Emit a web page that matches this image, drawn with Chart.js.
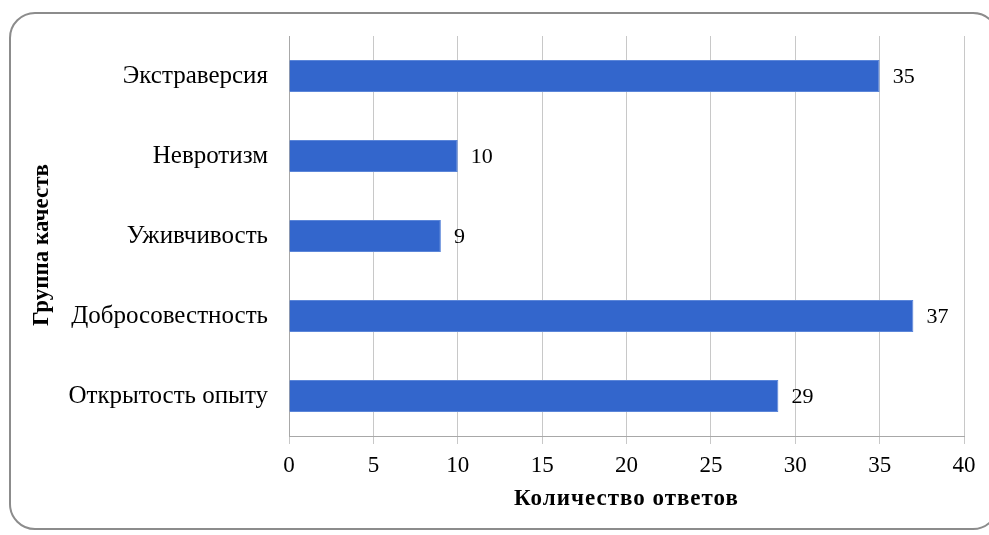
<!DOCTYPE html>
<html>
<head>
<meta charset="utf-8">
<script src="https://cdn.jsdelivr.net/npm/chart.js@4"></script>
<style>
  html, body { margin: 0; padding: 0; background: #fff; overflow: hidden; }
  #wrap { position: relative; width: 989px; height: 535px; }
  #frame {
    position: absolute; left: 9px; top: 12px; width: 990px; height: 518px;
    border: 2px solid #8c8c8c; border-radius: 26px; box-sizing: border-box;
  }
  canvas { position: absolute; left: 0; top: 0; }
</style>
</head>
<body>
<div id="wrap">
  <div id="frame"></div>
  <canvas id="myChart" width="989" height="535"></canvas>
</div>
<script>
const categories = ['Экстраверсия', 'Невротизм', 'Уживчивость', 'Добросовестность', 'Открытость опыту']
const answers = [35, 10, 9, 37, 29]
const xTitle = 'Количество ответов'
const yTitle = 'Группа качеств'

const serif = 'Liberation Serif'

// value labels at the end of each bar + both axis titles (drawn by hand to place them like the original)
const barLabels = {
    id: 'barLabels',
    afterDatasetsDraw(chart) {
        const ctx = chart.ctx
        const meta = chart.getDatasetMeta(0)
        ctx.save()
        ctx.font = '22px "' + serif + '"'
        ctx.fillStyle = '#000'
        ctx.textAlign = 'left'
        ctx.textBaseline = 'middle'
        meta.data.forEach((bar, i) => {
            ctx.fillText(String(answers[i]), bar.x + 13, bar.y + 1)
        })
        const area = chart.chartArea
        ctx.font = 'bold 23px "' + serif + '"'
        ctx.letterSpacing = '1px'
        ctx.textAlign = 'center'
        ctx.fillText(xTitle, (area.left + area.right) / 2, 499)
        ctx.letterSpacing = '0px'
        ctx.translate(42, (area.top + area.bottom) / 2 + 9)
        ctx.rotate(-Math.PI / 2)
        ctx.fillText(yTitle, 0, 0)
        ctx.restore()
    }
}

const ctx = document.getElementById('myChart').getContext('2d')
const myChart = new Chart(ctx, {
    type: 'bar',
    data: {
        labels: categories,
        datasets: [{
            data: answers,
            backgroundColor: '#3366cc',
            borderColor: '#5b86d9',
            borderWidth: 1,
            barPercentage: 0.4,
            categoryPercentage: 1
        }]
    },
    options: {
        indexAxis: 'y',
        responsive: false,
        animation: false,
        layout: { padding: { top: 36, right: 25, left: 0, bottom: 0 } },
        plugins: { legend: { display: false }, tooltip: { enabled: false } },
        scales: {
            x: {
                min: 0,
                max: 40,
                ticks: { stepSize: 5, color: '#000', padding: 8, font: { family: serif, size: 23 } },
                grid: { color: '#c8c8c8', tickLength: 8, drawTicks: true },
                border: { color: '#a8a8a8' },
                afterFit(scale) { scale.height = 99 }
            },
            y: {
                ticks: { color: '#000', padding: 13, font: { family: serif, size: 25 } },
                grid: { display: false },
                border: { display: true, color: '#a8a8a8' },
                afterFit(scale) { scale.width = 289 }
            }
        }
    },
    plugins: [barLabels]
})
</script>
</body>
</html>
